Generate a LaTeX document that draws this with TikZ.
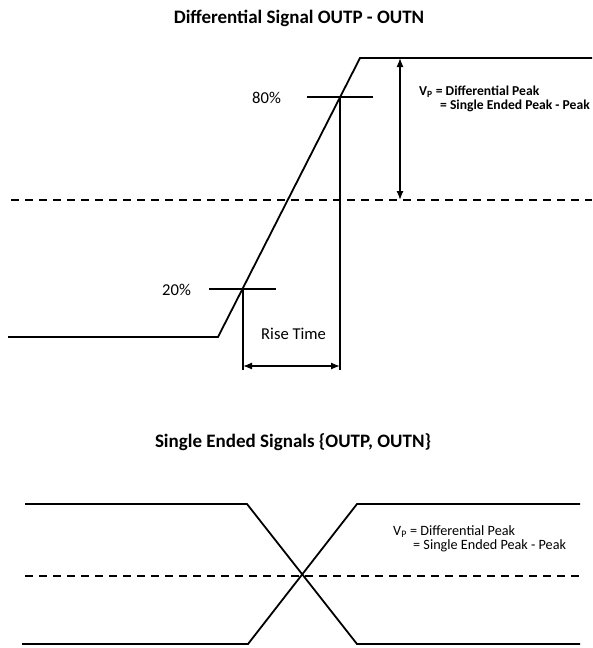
\documentclass[tikz,border=0pt]{standalone}
\usepackage{fontspec}
\setmainfont{Carlito}
\usetikzlibrary{arrows.meta}
\tikzset{
  sig/.style={line width=1.8pt, line join=miter},
  tick/.style={line width=1.2pt},
  ref/.style={line width=2.2pt, dash pattern=on 8pt off 6pt},
  dim/.style={line width=1.3pt, {Latex[length=9pt,width=7pt]}-{Latex[length=9pt,width=7pt]}},
  ttl/.style={font=\fontsize{19}{22}\selectfont\bfseries, inner sep=0pt},
  lbl/.style={font=\fontsize{16.6}{19}\selectfont, inner sep=0pt, anchor=base west},
  note/.style={font=\fontsize{14.2}{14}\selectfont, inner sep=0pt, anchor=base west},
  bnote/.style={note, font=\fontsize{13.6}{14}\selectfont\bfseries},
}
\begin{document}
\begin{tikzpicture}[x=1pt,y=-1pt]
\useasboundingbox (0,0) rectangle (592,648);
% ---------- top: differential signal ----------
\node[ttl, anchor=base] (t1) at (299,23) {Differential Signal OUTP - OUTN};
\coordinate (l0) at (8,337);
\coordinate (l1) at (218,337);
\coordinate (h0) at (360,58);
\coordinate (h1) at (592,58);
\draw[sig] (l0) -- (l1) -- (h0) -- (h1);
\coordinate (d0) at (11,200);
\coordinate (d1) at (592,200);
\draw[ref] (d0) -- (d1);
% Vp arrow
\coordinate (va) at (400,58);
\coordinate (vb) at (400,200);
\draw[dim] (va) -- (vb);
\node[bnote] (vp1) at (419,95) {V\textsubscript{P} = Differential Peak};
\node[bnote] (vp2) at (440,109) {= Single Ended Peak - Peak};
% 80 %
\coordinate (e0) at (307,97);
\coordinate (e1) at (373,97);
\draw[tick] (e0) -- (e1);
\coordinate (ev0) at (340,97);
\coordinate (ev1) at (340,370);
\draw[tick] (ev0) -- (ev1);
\node[lbl] (p80) at (252,103) {80\%};
% 20 %
\coordinate (f0) at (209,289);
\coordinate (f1) at (276,289);
\draw[tick] (f0) -- (f1);
\coordinate (fv0) at (243,289);
\coordinate (fv1) at (243,370);
\draw[tick] (fv0) -- (fv1);
\node[lbl] (p20) at (162,295) {20\%};
% rise time
\coordinate (ra) at (243,366);
\coordinate (rb) at (340,366);
\draw[dim] (ra) -- (rb);
\node[lbl] (rt) at (261,339) {Rise Time};
% ---------- bottom: single ended ----------
\node[ttl, anchor=base] (t2) at (293,447) {Single Ended Signals \{OUTP, OUTN\}};
\coordinate (a0) at (25,504);
\coordinate (a1) at (247,504);
\coordinate (a2) at (357,644);
\coordinate (a3) at (580,644);
\draw[sig] (a0) -- (a1) -- (a2) -- (a3);
\coordinate (b0) at (22,644);
\coordinate (b1) at (248,644);
\coordinate (b2) at (357,504);
\coordinate (b3) at (580,504);
\draw[sig] (b0) -- (b1) -- (b2) -- (b3);
\coordinate (c0) at (25,576);
\coordinate (c1) at (580,576);
\draw[ref] (c0) -- (c1);
\node[note] (vp3) at (393,535) {V\textsubscript{P} = Differential Peak};
\node[note] (vp4) at (413,549) {= Single Ended Peak - Peak};
\end{tikzpicture}
\end{document}
